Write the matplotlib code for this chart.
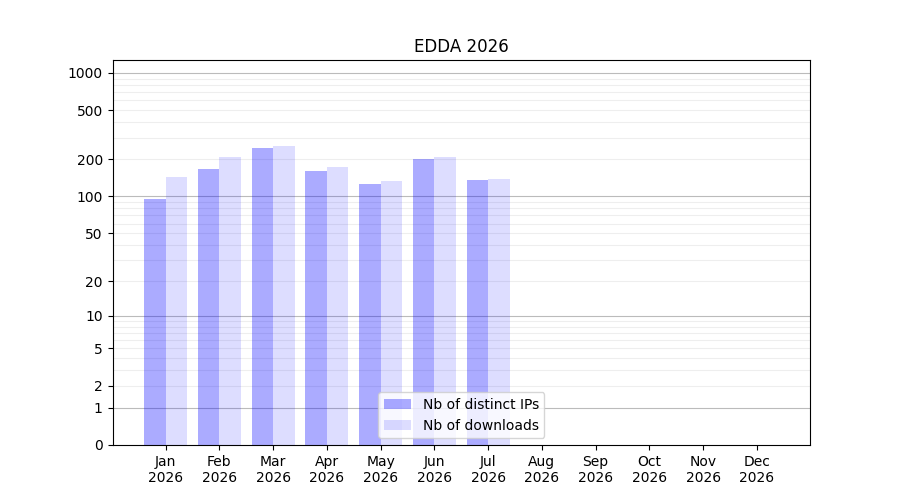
import numpy as np
import matplotlib
matplotlib.use("Agg")
import matplotlib.pyplot as plt

months = ["Jan", "Feb", "Mar", "Apr", "May", "Jun", "Jul", "Aug", "Sep", "Oct", "Nov", "Dec"]
year = "2026"
ips = [95, 167, 247, 161, 126, 201, 136, 0, 0, 0, 0, 0]
downloads = [144, 209, 257, 174, 134, 209, 139, 0, 0, 0, 0, 0]
ytick_vals = [0, 1, 2, 5, 10, 20, 50, 100, 200, 500, 1000]

def fwd(y):
    return np.log10(1 + np.clip(y, 0, None))

def inv(y):
    return 10 ** y - 1

fig, ax = plt.subplots(figsize=(9, 5), dpi=100)
ax.set_yscale("function", functions=(fwd, inv))

x = np.arange(len(months))
w = 0.4
ax.bar(x - w / 2, ips, w, color="blue", alpha=0.33, label="Nb of distinct IPs", zorder=2)
ax.bar(x + w / 2, downloads, w, color="blue", alpha=0.133, label="Nb of downloads", zorder=2)

# grid lines
for dec in [1, 10, 100, 1000]:
    ax.axhline(dec, color="#bbbbbb", lw=0.8, zorder=1)
for dec in [1, 10, 100]:
    for k in range(2, 10):
        ax.axhline(dec * k, color="#eeeeee", lw=0.8, zorder=1)

ax.set_yticks(ytick_vals)
ax.set_yticklabels([str(v) for v in ytick_vals])
ax.yaxis.set_minor_locator(matplotlib.ticker.NullLocator())
ax.set_ylim(0, 1270)
ax.set_xticks(x)
ax.set_xticklabels([f"{m}\n{year}" for m in months])
ax.set_xlim(-0.99, 11.99)
ax.set_title("EDDA 2026")
ax.legend(loc="lower center")

fig.savefig("out.png")
